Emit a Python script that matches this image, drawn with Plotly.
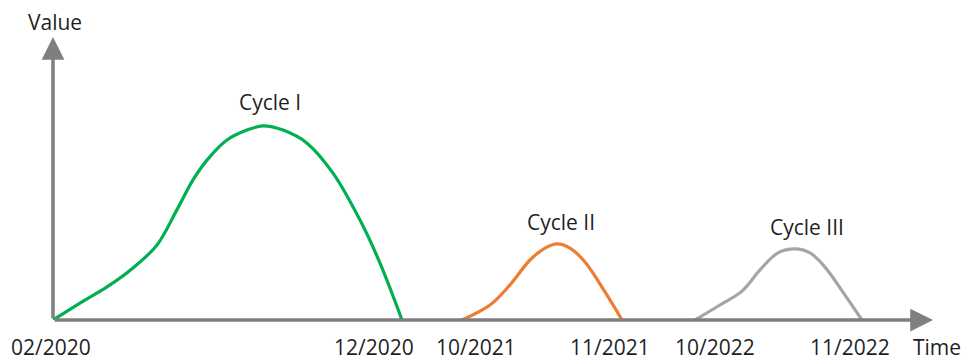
import plotly.graph_objects as go

# Schematic time units (x) and relative values (y)
cycle1_x = [0, 2.7, 5.4, 8.0, 10.4, 12.4, 14.0, 15.4, 17.4, 19.4, 21.0, 23.0, 25.4, 28.0, 30.7, 32.7, 34.9]
cycle1_y = [0, 6.0, 11.7, 18.4, 26.5, 39.0, 49.5, 56.5, 63.6, 67.1, 68.6, 67.1, 62.5, 51.9, 35.3, 20.1, 0]

cycle2_x = [40.9, 43.7, 45.7, 47.7, 49.2, 50.4, 51.7, 53.2, 55.2, 56.9]
cycle2_y = [0, 5.3, 12.4, 21.2, 25.4, 26.9, 25.4, 20.5, 9.9, 0]

cycle3_x = [64.2, 66.7, 68.9, 70.7, 72.5, 74.2, 75.7, 77.2, 79.2, 80.9]
cycle3_y = [0, 5.3, 10.2, 17.7, 23.7, 25.1, 23.7, 18.7, 8.8, 0]

cycle_names = ["Cycle I", "Cycle II", "Cycle III"]
cycle_label_x = [21.7, 50.8, 75.4]
cycle_label_y = [77.0, 34.6, 32.9]
cycle_colors = ["#00b050", "#ed7d31", "#a5a5a5"]

tick_labels = ["02/2020", "12/2020", "10/2021", "11/2021", "10/2022", "11/2022"]
tick_pos = [-0.2, 32.1, 42.3, 55.7, 66.2, 79.7]
tick_label_y = -9.4

X_MAX = 88
Y_MAX = 100

FONT = dict(family="Open Sans", size=21, color="#1f1f1f")
AXIS_COLOR = "#7f7f7f"

fig = go.Figure()
for xs, ys, name, col in zip([cycle1_x, cycle2_x, cycle3_x],
                             [cycle1_y, cycle2_y, cycle3_y],
                             cycle_names, cycle_colors):
    fig.add_trace(go.Scatter(x=xs, y=ys, mode="lines", name=name,
                             line=dict(color=col, width=3.2, shape="spline", smoothing=1.0),
                             cliponaxis=False, hoverinfo="skip"))


def paper(x, y):
    return x / X_MAX, y / Y_MAX


annotations = []
# axes arrows
annotations.append(dict(x=0, y=Y_MAX, ax=0, ay=0, xref="x", yref="y", axref="x", ayref="y",
                        showarrow=True, arrowhead=2, arrowsize=1.3, arrowwidth=3.5,
                        arrowcolor=AXIS_COLOR, text="", standoff=0))
annotations.append(dict(x=X_MAX, y=0, ax=0, ay=0, xref="x", yref="y", axref="x", ayref="y",
                        showarrow=True, arrowhead=2, arrowsize=1.3, arrowwidth=3.5,
                        arrowcolor=AXIS_COLOR, text="", standoff=0))
for name, lx, ly in zip(cycle_names, cycle_label_x, cycle_label_y):
    annotations.append(dict(x=lx, y=ly, text=name, showarrow=False, font=FONT,
                            xref="x", yref="y", xanchor="center", yanchor="middle"))
for t, p in zip(tick_labels, tick_pos):
    px_, py_ = paper(p, tick_label_y)
    annotations.append(dict(x=px_, y=py_, text=t, showarrow=False, font=FONT,
                            xref="paper", yref="paper", xanchor="center", yanchor="middle",
                            borderpad=0))
px_, py_ = paper(88.4, tick_label_y)
annotations.append(dict(x=px_, y=py_, text="Time", showarrow=False, font=FONT,
                        xref="paper", yref="paper", xanchor="center", yanchor="middle",
                        borderpad=0))
px_, py_ = paper(0.2, 105.2)
annotations.append(dict(x=px_, y=py_, text="Value", showarrow=False, font=FONT,
                        xref="paper", yref="paper", xanchor="center", yanchor="middle",
                        borderpad=0))

fig.update_layout(
    width=961, height=352,
    margin=dict(l=45, r=36, t=29, b=40),
    paper_bgcolor="white", plot_bgcolor="white",
    showlegend=False,
    xaxis=dict(range=[0, X_MAX], visible=False, fixedrange=True),
    yaxis=dict(range=[0, Y_MAX], visible=False, fixedrange=True),
    annotations=annotations,
)

fig.write_html("out.html", config={"displayModeBar": False})
